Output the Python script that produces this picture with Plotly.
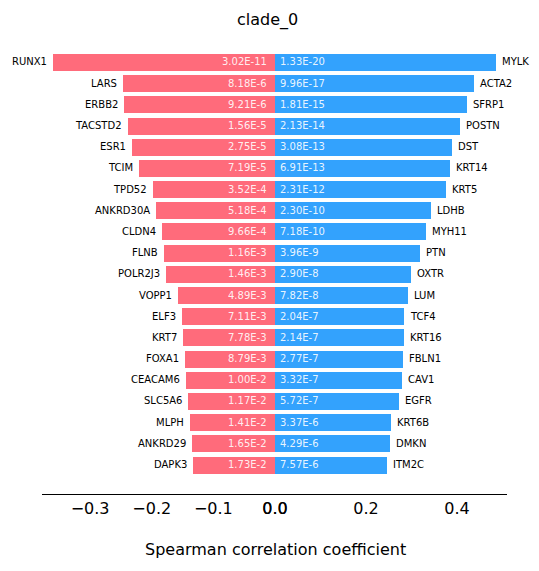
import plotly.graph_objects as go

W, H = 539, 571

neg_genes = ["RUNX1", "LARS", "ERBB2", "TACSTD2", "ESR1", "TCIM", "TPD52", "ANKRD30A",
             "CLDN4", "FLNB", "POLR2J3", "VOPP1", "ELF3", "KRT7", "FOXA1", "CEACAM6",
             "SLC5A6", "MLPH", "ANKRD29", "DAPK3"]
neg_vals = [-0.360, -0.247, -0.245, -0.239, -0.232, -0.221, -0.198, -0.193,
            -0.183, -0.180, -0.177, -0.157, -0.151, -0.149, -0.146, -0.144,
            -0.141, -0.138, -0.135, -0.133]
neg_p = ["3.02E-11", "8.18E-6", "9.21E-6", "1.56E-5", "2.75E-5", "7.19E-5", "3.52E-4", "5.18E-4",
         "9.66E-4", "1.16E-3", "1.46E-3", "4.89E-3", "7.11E-3", "7.78E-3", "8.79E-3", "1.00E-2",
         "1.17E-2", "1.41E-2", "1.65E-2", "1.73E-2"]

pos_genes = ["MYLK", "ACTA2", "SFRP1", "POSTN", "DST", "KRT14", "KRT5", "LDHB",
             "MYH11", "PTN", "OXTR", "LUM", "TCF4", "KRT16", "FBLN1", "CAV1",
             "EGFR", "KRT6B", "DMKN", "ITM2C"]
pos_vals = [0.485, 0.438, 0.421, 0.406, 0.388, 0.384, 0.375, 0.342,
            0.333, 0.318, 0.300, 0.292, 0.283, 0.283, 0.281, 0.279,
            0.272, 0.254, 0.252, 0.246]
pos_p = ["1.33E-20", "9.96E-17", "1.81E-15", "2.13E-14", "3.08E-13", "6.91E-13", "2.31E-12", "2.30E-10",
         "7.18E-10", "3.96E-9", "2.90E-8", "7.82E-8", "2.04E-7", "2.14E-7", "2.77E-7", "3.32E-7",
         "5.72E-7", "3.37E-6", "4.29E-6", "7.57E-6"]

left_ticks = [-0.3, -0.2, -0.1, 0.0]
left_ticktext = ["\u22120.3", "\u22120.2", "\u22120.1", "0.0"]
right_ticks = [0.0, 0.2, 0.4]
right_ticktext = ["0.0", "0.2", "0.4"]

title = "clade_0"
xlabel = "Spearman correlation coefficient"

RED = "#FF6B7B"
BLUE = "#33A2FD"
FONT = "DejaVu Sans"

rows = list(range(len(neg_genes)))

fig = go.Figure()
fig.add_trace(go.Bar(x=neg_vals, y=rows, orientation="h", width=0.8,
                     marker=dict(color=RED, line=dict(width=0)),
                     xaxis="x", yaxis="y", showlegend=False, hoverinfo="skip"))
fig.add_trace(go.Bar(x=pos_vals, y=rows, orientation="h", width=0.8,
                     marker=dict(color=BLUE, line=dict(width=0)),
                     xaxis="x2", yaxis="y", showlegend=False, hoverinfo="skip"))

ann = []
for i, (g, v, p) in enumerate(zip(neg_genes, neg_vals, neg_p)):
    ann.append(dict(x=v, y=i, xref="x", yref="y", text=g, showarrow=False,
                    xanchor="right", xshift=-4, font=dict(size=10, color="black", family=FONT)))
    ann.append(dict(x=0, y=i, xref="x", yref="y", text=p, showarrow=False,
                    xanchor="right", xshift=-6, font=dict(size=10, color="rgba(255,255,255,0.9)", family=FONT)))
for i, (g, v, p) in enumerate(zip(pos_genes, pos_vals, pos_p)):
    ann.append(dict(x=v, y=i, xref="x2", yref="y", text=g, showarrow=False,
                    xanchor="left", xshift=4, font=dict(size=10, color="black", family=FONT)))
    ann.append(dict(x=0, y=i, xref="x2", yref="y", text=p, showarrow=False,
                    xanchor="left", xshift=3, font=dict(size=10, color="rgba(255,255,255,0.9)", family=FONT)))

ann.append(dict(x=267 / W, y=1 - 20 / H, xref="paper", yref="paper", text=title, showarrow=False,
                xanchor="center", yanchor="middle", font=dict(size=16, color="black", family=FONT)))
ann.append(dict(x=275 / W, y=1 - 549 / H, xref="paper", yref="paper", text=xlabel, showarrow=False,
                xanchor="center", yanchor="middle", font=dict(size=16, color="black", family=FONT)))

axis_common = dict(showgrid=False, zeroline=False, showline=True, linecolor="black", linewidth=1,
                   ticks="", tickfont=dict(size=16, color="black", family=FONT), anchor="y",
                   automargin=False)

fig.update_layout(
    width=W, height=H,
    margin=dict(l=0, r=0, t=0, b=0, autoexpand=False),
    paper_bgcolor="white", plot_bgcolor="white",
    bargap=0,
    xaxis=dict(domain=[42 / W, 275 / W], range=[-0.378, 0], tickvals=left_ticks,
               ticktext=left_ticktext, **axis_common),
    xaxis2=dict(domain=[275 / W, 507 / W], range=[0, 0.51], tickvals=right_ticks,
                ticktext=right_ticktext, **axis_common),
    yaxis=dict(domain=[(H - 494) / H, (H - 32.5) / H], range=[len(rows) - 1 + 1.39, -1.39],
               showgrid=False, zeroline=False, showline=False, showticklabels=False, ticks="",
               anchor="x", automargin=False),
    annotations=ann,
)

fig.write_html("out.html")
